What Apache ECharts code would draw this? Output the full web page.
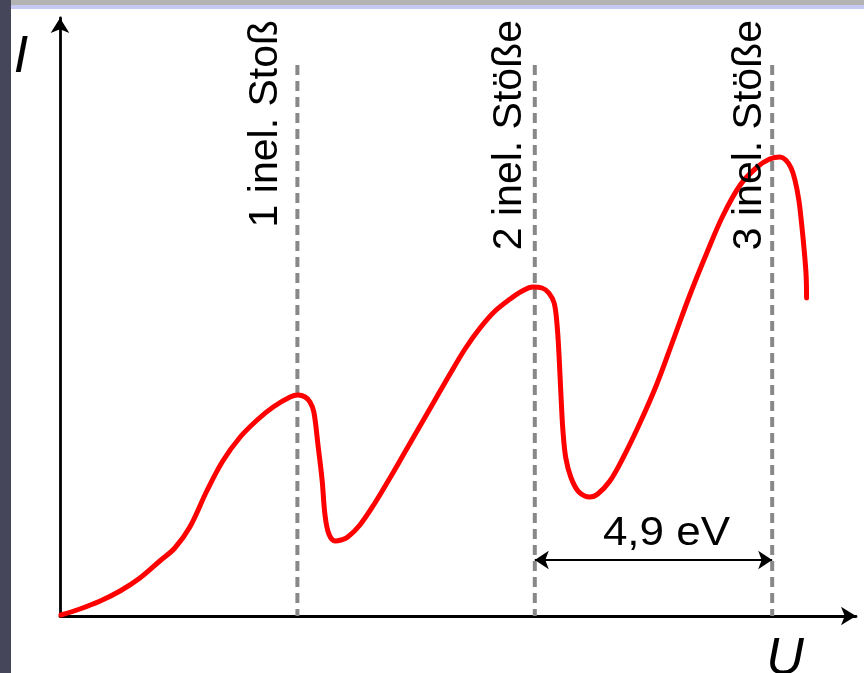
<!DOCTYPE html>
<html><head><meta charset="utf-8">
<script src="https://cdn.jsdelivr.net/npm/echarts@6/dist/echarts.min.js"></script>
<style>html,body{margin:0;padding:0;background:#fff}#c{width:864px;height:673px}</style>
</head><body><div id="c"></div>
<script>
// Franck-Hertz curve: anode current I vs. accelerating voltage U
const voltage = [0.02, 0.41, 0.83, 1.24, 1.65, 2.06, 2.37, 2.68, 3.03, 3.36, 3.72, 4.07, 4.40, 4.75, 4.91,
  5.06, 5.16, 5.24, 5.33, 5.41, 5.47, 5.55, 5.68, 5.80,
  5.94, 6.19, 6.50, 6.81, 7.12, 7.43, 7.74, 8.05, 8.36, 8.67, 8.98, 9.29, 9.54, 9.76,
  9.95, 10.09, 10.20, 10.26, 10.30, 10.34, 10.38, 10.44, 10.55, 10.71, 10.94,
  11.10, 11.35, 11.62, 11.97, 12.32, 12.65, 13.00, 13.35, 13.68, 14.04, 14.39, 14.65, 14.86,
  14.98, 15.09, 15.17, 15.25, 15.31, 15.36, 15.40, 15.41];
const current = [0.1, 0.7, 1.5, 2.5, 3.8, 5.5, 6.8, 8.9, 12.5, 15.5, 17.9, 19.6, 20.9, 21.9, 22.1,
  21.9, 21.4, 20.4, 16.9, 13.6, 10.1, 8.2, 7.5, 7.6,
  7.9, 9.1, 11.3, 13.8, 16.4, 19.0, 21.6, 24.2, 26.7, 28.8, 30.5, 31.7, 32.5, 32.9,
  32.8, 32.3, 31.3, 29.1, 26.1, 22.1, 18.6, 15.8, 13.8, 12.4, 11.9,
  12.2, 13.5, 15.8, 19.3, 23.2, 27.5, 32.1, 36.3, 40.0, 43.1, 44.9, 45.7, 45.9,
  45.6, 44.8, 43.6, 41.6, 39.1, 36.6, 34.1, 31.8];
const collisionVoltages = [4.9, 9.8, 14.7];
const collisionLabels = ['1 inel. Stoß', '2 inel. Stöße', '3 inel. Stöße'];
const dashTop = 55.1;
const spacingLabel = '4,9 eV';
const spacingLevel = 5.6;
const xAxisName = 'U';
const yAxisName = 'I';

const labelDx = [-32, -25, -22];
const FONT = '"Liberation Sans", Arial, Helvetica, sans-serif';

const chart = echarts.init(document.getElementById('c'), null, { renderer: 'canvas' });
const axisCommon = {
  type: 'value',
  axisLine: { show: true, onZero: false, symbol: ['none', 'arrow'], symbolSize: [14, 15], lineStyle: { color: '#000', width: 2.8 } },
  axisTick: { show: false }, axisLabel: { show: false }, splitLine: { show: false }
};
const dashSeries = collisionVoltages.map(v => ({
  type: 'line', data: [[v, dashTop], [v, 0]], showSymbol: false, symbol: 'none', silent: true, z: 3,
  lineStyle: { color: '#888888', width: 4, type: [10, 6] }
}));
chart.setOption({
  animation: false,
  backgroundColor: '#ffffff',
  grid: { left: 60, right: 8, top: 18, bottom: 57 },
  xAxis: Object.assign({}, axisCommon, { min: 0, max: 16.43 }),
  yAxis: Object.assign({}, axisCommon, { min: 0, max: 59.8 }),
  series: [
    {
      type: 'line', data: voltage.map((v, i) => [v, current[i]]),
      smooth: 0.35, showSymbol: false, symbol: 'none',
      lineStyle: { color: '#ff0000', width: 5, cap: 'round', join: 'round' }, z: 5
    },
    ...dashSeries,
    {
      type: 'line', data: [], z: 4,
      markLine: {
        silent: true, animation: false, symbol: ['arrow', 'arrow'], symbolSize: 14, label: { show: false },
        lineStyle: { color: '#000', width: 2.2, type: 'solid' },
        itemStyle: { color: '#000' },
        emphasis: { disabled: true },
        data: [[{ coord: [collisionVoltages[1], spacingLevel] }, { coord: [collisionVoltages[2], spacingLevel] }]]
      }
    }
  ]
});

const g = [
  { type: 'rect', shape: { x: 0, y: 0, width: 864, height: 5 }, style: { fill: '#b3b3b3' }, z: 100 },
  { type: 'rect', shape: { x: 0, y: 5, width: 864, height: 4 }, style: { fill: '#c8c8f4' }, z: 100 },
  { type: 'rect', shape: { x: 0, y: 0, width: 11, height: 673 }, style: { fill: '#46465a' }, z: 101 }
];
collisionVoltages.forEach((v, i) => {
  const p = chart.convertToPixel({ gridIndex: 0 }, [v, 0]);
  g.push({
    type: 'text', x: p[0] + labelDx[i], y: 20, rotation: Math.PI / 2, z: 50,
    style: { text: collisionLabels[i], font: '41px ' + FONT, fill: '#000', align: 'right', verticalAlign: 'middle' }
  });
});
const a = chart.convertToPixel({ gridIndex: 0 }, [collisionVoltages[1], spacingLevel]);
const b = chart.convertToPixel({ gridIndex: 0 }, [collisionVoltages[2], spacingLevel]);
g.push({
  type: 'text', x: (a[0] + b[0]) / 2 + 13, y: a[1] - 26, z: 50, scaleX: 1.1,
  style: { text: spacingLabel, font: '40px ' + FONT, fill: '#000', align: 'center', verticalAlign: 'middle' }
});
g.push({ type: 'text', x: 21, y: 58, z: 50, style: { text: yAxisName, font: 'italic 52px ' + FONT, fill: '#000', align: 'center', verticalAlign: 'middle' } });
g.push({ type: 'text', x: 785, y: 660, z: 50, style: { text: xAxisName, font: 'italic 52px ' + FONT, fill: '#000', align: 'center', verticalAlign: 'middle' } });
chart.setOption({ graphic: g });
</script>
</body></html>
